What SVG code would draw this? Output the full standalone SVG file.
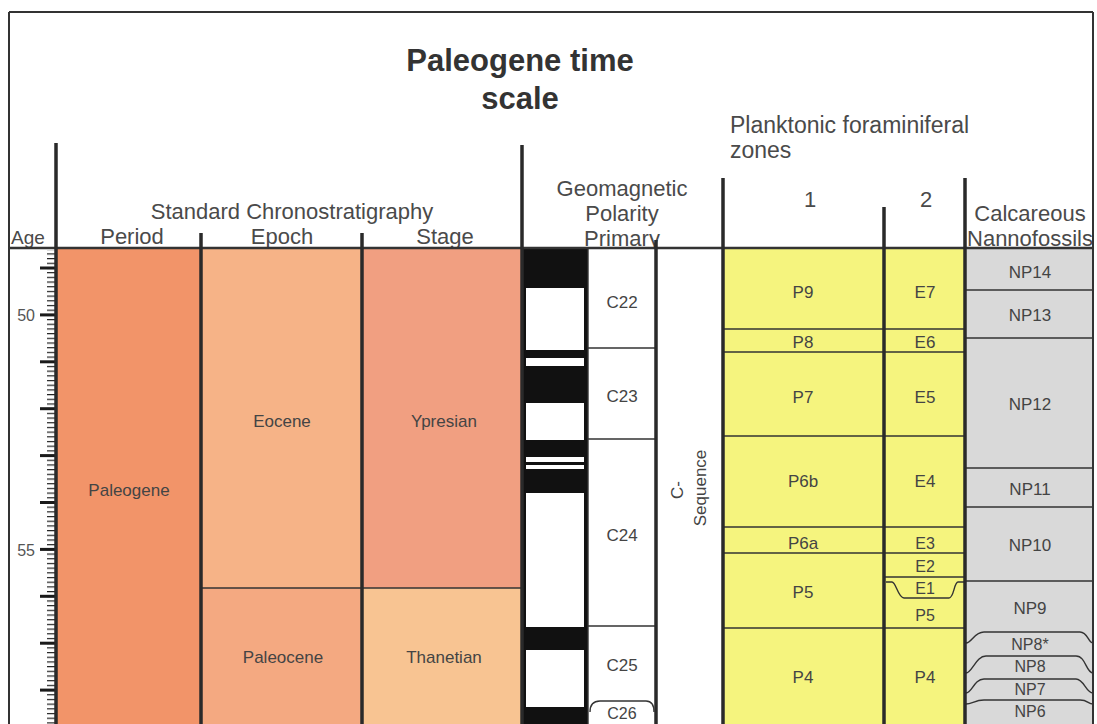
<svg xmlns="http://www.w3.org/2000/svg" width="1097" height="724" viewBox="0 0 1097 724">
<defs>
<style>
text{font-family:"Liberation Sans",Arial,sans-serif;fill:#4a4a4a}
.title{font-size:31px;font-weight:bold;fill:#333;text-anchor:middle}
.hd{font-size:22px;text-anchor:middle}
.hs{font-size:22px}
.lb{font-size:17px;text-anchor:middle;fill:#444}
.sm{font-size:16px;text-anchor:middle;fill:#444}
.age{font-size:16px;text-anchor:end;fill:#555}
.v{stroke:#2a2a2a;stroke-width:3.5;fill:none}
.fr{stroke:#333;stroke-width:2;fill:none}
.b{stroke:#333;stroke-width:1.4;fill:none}
</style>
<pattern id="minor" patternUnits="userSpaceOnUse" x="47" y="267.4" width="9" height="4.69">
<rect x="0" y="0" width="9" height="1.2" fill="#222"/>
</pattern>
</defs>
<rect x="0" y="0" width="1097" height="724" fill="#fff"/>

<g id="title">
<text class="title" x="520" y="71">Paleogene time</text>
<text class="title" x="520" y="109">scale</text>
</g>

<g id="header">
<text class="hs" x="11" y="244" style="font-size:19px">Age</text>
<text class="hd" x="292" y="219">Standard Chronostratigraphy</text>
<text class="hd" x="132" y="244">Period</text>
<text class="hd" x="282" y="244">Epoch</text>
<text class="hd" x="445" y="244">Stage</text>
<text class="hd" x="622" y="196">Geomagnetic</text>
<text class="hd" x="622" y="221">Polarity</text>
<text class="hd" x="622" y="246">Primary</text>
<text class="hs" x="730" y="133" style="font-size:23px">Planktonic foraminiferal</text>
<text class="hs" x="730" y="158" style="font-size:23px">zones</text>
<text class="hd" x="810" y="207">1</text>
<text class="hd" x="926" y="207">2</text>
<text class="hd" x="1030" y="221">Calcareous</text>
<text class="hd" x="1030" y="246">Nannofossils</text>
</g>

<g id="age-scale">
<rect x="47" y="250" width="9" height="474" fill="url(#minor)"/>
<g fill="#1a1a1a">
<rect x="40" y="266.5" width="16" height="3"/>
<rect x="40" y="313.4" width="16" height="3"/>
<rect x="40" y="360.3" width="16" height="3"/>
<rect x="40" y="407.2" width="16" height="3"/>
<rect x="40" y="454.1" width="16" height="3"/>
<rect x="40" y="501" width="16" height="3"/>
<rect x="40" y="547.9" width="16" height="3"/>
<rect x="40" y="594.8" width="16" height="3"/>
<rect x="40" y="641.7" width="16" height="3"/>
<rect x="40" y="688.6" width="16" height="3"/>
</g>
<text class="age" x="35" y="321">50</text>
<text class="age" x="35" y="556">55</text>
</g>

<g id="period-paleogene">
<rect x="56" y="248" width="145" height="476" fill="#f29469"/>
<text class="lb" x="129" y="496">Paleogene</text>
</g>
<g id="epoch-eocene">
<rect x="201" y="248" width="161" height="340" fill="#f6b387"/>
<text class="lb" x="282" y="427">Eocene</text>
</g>
<g id="epoch-paleocene">
<rect x="201" y="588" width="161" height="136" fill="#f4a981"/>
<text class="lb" x="283" y="663">Paleocene</text>
</g>
<g id="stage-ypresian">
<rect x="362" y="248" width="160" height="340" fill="#f19f81"/>
<text class="lb" x="444" y="427">Ypresian</text>
</g>
<g id="stage-thanetian">
<rect x="362" y="588" width="160" height="136" fill="#f8c492"/>
<text class="lb" x="444" y="663">Thanetian</text>
</g>

<g id="polarity-column">
<rect x="522" y="248" width="66" height="476" fill="#111"/>
<g fill="#fff">
<rect x="526" y="288" width="58" height="62"/>
<rect x="526" y="358" width="58" height="8"/>
<rect x="526" y="403" width="58" height="37"/>
<rect x="526" y="457" width="58" height="5"/>
<rect x="526" y="465" width="58" height="4"/>
<rect x="526" y="493" width="58" height="134"/>
<rect x="526" y="650" width="58" height="57"/>
</g>
</g>

<g id="chrons">
<rect x="588" y="248" width="68" height="476" fill="#fff"/>
<text class="lb" x="622" y="308">C22</text>
<text class="lb" x="622" y="402">C23</text>
<text class="lb" x="622" y="541">C24</text>
<text class="lb" x="622" y="671">C25</text>
<text class="sm" x="622" y="719">C26</text>
</g>

<g id="c-sequence">
<rect x="656" y="248" width="67" height="476" fill="#fff"/>
<text class="lb" transform="translate(683,490) rotate(-90)" x="0" y="0">C-</text>
<text class="lb" transform="translate(706,488) rotate(-90)" x="0" y="0">Sequence</text>
</g>

<g id="zones-1">
<rect x="723" y="248" width="161" height="476" fill="#f5f47e"/>
<text class="lb" x="803" y="298">P9</text>
<text class="lb" x="803" y="348">P8</text>
<text class="lb" x="803" y="403">P7</text>
<text class="lb" x="803" y="487">P6b</text>
<text class="lb" x="803" y="549">P6a</text>
<text class="lb" x="803" y="598">P5</text>
<text class="lb" x="803" y="683">P4</text>
</g>

<g id="zones-2">
<rect x="884" y="248" width="81" height="476" fill="#f5f47e"/>
<text class="lb" x="925" y="298">E7</text>
<text class="lb" x="925" y="348">E6</text>
<text class="lb" x="925" y="403">E5</text>
<text class="lb" x="925" y="487">E4</text>
<text class="sm" x="925" y="549">E3</text>
<text class="sm" x="925" y="572">E2</text>
<text class="sm" x="925" y="594">E1</text>
<text class="sm" x="925" y="621">P5</text>
<text class="lb" x="925" y="683">P4</text>
</g>

<g id="nannofossils">
<rect x="965" y="248" width="128" height="476" fill="#d9d9d9"/>
<text class="lb" x="1030" y="278">NP14</text>
<text class="lb" x="1030" y="321">NP13</text>
<text class="lb" x="1030" y="410">NP12</text>
<text class="lb" x="1030" y="495">NP11</text>
<text class="lb" x="1030" y="551">NP10</text>
<text class="lb" x="1030" y="614">NP9</text>
<text class="sm" x="1030" y="650">NP8*</text>
<text class="sm" x="1030" y="672">NP8</text>
<text class="sm" x="1030" y="695">NP7</text>
<text class="sm" x="1030" y="717">NP6</text>
</g>

<g id="lines">
<path class="b" d="M201 588H522"/>
<path class="b" d="M588 348H656M588 439H656M588 626H656"/>
<path class="b" d="M590 712Q590 701 600 701H646Q654 701 654 712"/>
<path class="b" d="M723 329H965M723 352H965M723 436H965M723 527H965M723 553H965M723 628H965M884 577H965"/>
<path class="b" d="M886 582H892C896 582 898 598 904 598H949C954 598 954 582 958 582H964"/>
<path class="b" d="M965 290H1093M965 338H1093M965 468H1093M965 507H1093M965 581H1093"/>
<path class="b" d="M966 643C972 643 974 632 984 632H1080C1088 632 1088 643 1093 643"/>
<path class="b" d="M966 673C972 673 976 656 986 656H1076C1086 656 1086 673 1093 673"/>
<path class="b" d="M966 693C972 693 974 679 984 679H1076C1084 679 1086 693 1093 693"/>
<path class="b" d="M966 704C972 704 975 700 984 700H1080C1088 700 1088 704 1093 704"/>
<path class="fr" d="M9 12H1093M9 12V724M1093 12V724"/>
<path class="fr" d="M9 248H1093" style="stroke-width:2.5"/>
<path class="v" d="M56 143V724M201 233V724M362 233V724M522 145V724M656 240V724M723 178V724M884 207V724M965 178V724"/>
<path class="b" d="M588 248V724"/>
</g>
</svg>
